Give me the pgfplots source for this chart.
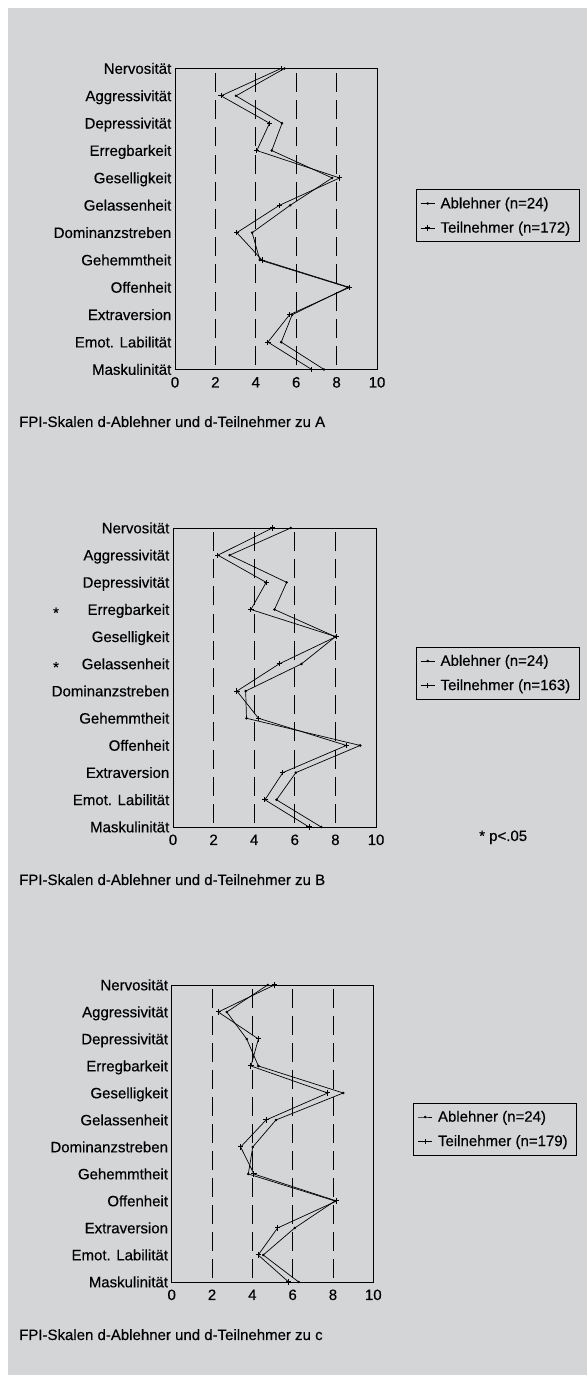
\documentclass[border=0pt]{standalone}
\usepackage{fontspec}
\setmainfont{Liberation Sans}[FakeBold=0.35]
\usepackage{pgfplots}
\pgfplotsset{compat=1.18}
\definecolor{bggray}{RGB}{212,213,215}
\newcommand\lbl{\fontsize{15}{18}\selectfont}
\newcommand\lgd[1]{\makebox[137pt][l]{\hspace{4pt}#1}}
\pgfplotsset{
  fpi/.style={
    scale only axis,
    xmin=0, xmax=10, ymin=1, ymax=12,
    xtick={0,2,4,6,8,10},
    ytick={1,2,3,4,5,6,7,8,9,10,11,12},
    yticklabels={Maskulinität,Emot. Labilität,Extraversion,Offenheit,Gehemmtheit,Dominanzstreben,Gelassenheit,Geselligkeit,Erregbarkeit,Depressivität,Aggressivität,Nervosität},
    major tick length=0pt,
    axis line style={black, line width=0.8pt},
    xmajorgrids,
    /pgf/number format/assume math mode=true,
    xticklabel style={font=\lbl, anchor=base, inner sep=0pt, yshift=-18pt},
    yticklabel style={font=\lbl, anchor=base east, inner sep=0pt, xshift=-3.5pt, yshift=-5.3pt},
    legend cell align=left,
    legend style={draw=black, line width=0.8pt, fill=none, font=\lbl, anchor=north west,
      inner xsep=4pt, inner ysep=6pt, row sep=9pt,
      nodes={inner sep=1.5pt}},
    legend image code/.code={\draw[#1, mark indices={2}] plot coordinates {(0pt,0pt) (7pt,0pt) (14pt,0pt)};},
  },
  abl/.style={black, line width=0.7pt, mark=*, mark size=0.9pt},
  teil/.style={black, line width=0.7pt, mark=+, mark size=2.6pt, mark options={line width=1pt}},
}
\begin{document}
\begin{tikzpicture}[x=1pt,y=1pt]
\path[use as bounding box] (0,0) rectangle (587,1383);
\fill[bggray] (8,8) rectangle (587,1375);

% ---------- Panel A ----------
\begin{axis}[fpi, at={(175pt,1013.5pt)}, anchor=south west, width=202pt, height=301pt,
  major grid style={black, line width=0.8pt, dash pattern=on 19.15pt off 8.21pt, dash phase=23.25pt},
  legend style={at={(axis description cs:1.193,0.598)}}]
\addplot[abl] coordinates {
 (5.42,12) (3.02,11) (5.30,10) (4.79,9) (7.78,8) (5.70,7) (3.82,6) (4.20,5) (8.56,4) (5.80,3) (5.26,2) (7.38,1)};
\addplot[teil] coordinates {
 (5.25,12) (2.28,11) (4.68,10) (4.05,9) (8.15,8) (5.17,7) (3.06,6) (4.31,5) (8.64,4) (5.67,3) (4.60,2) (6.77,1)};
\legend{\lgd{Ablehner (n=24)}, \lgd{Teilnehmer (n=172)}}
\end{axis}
\node[anchor=base west, font=\lbl, inner sep=0pt] at (19,956) {FPI-Skalen d-Ablehner und d-Teilnehmer zu A};

% ---------- Panel B ----------
\begin{axis}[fpi, at={(173pt,556pt)}, anchor=south west, width=203pt, height=299pt,
  major grid style={black, line width=0.8pt, dash pattern=on 19.03pt off 8.15pt, dash phase=23.1pt},
  legend style={at={(axis description cs:1.197,0.602)}}]
\addplot[abl] coordinates {
 (5.80,12) (2.79,11) (5.60,10) (5.00,9) (8.00,8) (6.33,7) (3.58,6) (3.62,5) (9.22,4) (6.05,3) (5.10,2) (7.30,1)};
\addplot[teil] coordinates {
 (4.90,12) (2.21,11) (4.59,10) (3.84,9) (8.03,8) (5.23,7) (3.15,6) (4.21,5) (8.54,4) (5.41,3) (4.53,2) (6.70,1)};
\legend{\lgd{Ablehner (n=24)}, \lgd{Teilnehmer (n=163)}}
\end{axis}
\node[anchor=base west, font=\lbl, inner sep=0pt] at (19,498) {FPI-Skalen d-Ablehner und d-Teilnehmer zu B};
\node[anchor=base west, font=\lbl, inner sep=0pt] at (479,542) {* p<.05};
\node[anchor=base, font=\lbl, inner sep=0pt] at (56,765) {*};
\node[anchor=base, font=\lbl, inner sep=0pt] at (56,710.6) {*};

% ---------- Panel C ----------
\begin{axis}[fpi, at={(171.7pt,101pt)}, anchor=south west, width=201.6pt, height=297pt,
  major grid style={black, line width=0.8pt, dash pattern=on 18.9pt off 8.1pt, dash phase=22.95pt},
  legend style={at={(axis description cs:1.199,0.603)}}]
\addplot[abl] coordinates {
 (4.76,12) (2.73,11) (3.72,10) (4.30,9) (8.51,8) (5.17,7) (4.02,6) (3.80,5) (8.10,4) (6.10,3) (4.54,2) (6.30,1)};
\addplot[teil] coordinates {
 (5.09,12) (2.31,11) (4.30,10) (3.93,9) (7.74,8) (4.68,7) (3.42,6) (4.08,5) (8.18,4) (5.25,3) (4.29,2) (5.80,1)};
\legend{\lgd{Ablehner (n=24)}, \lgd{Teilnehmer (n=179)}}
\end{axis}
\node[anchor=base west, font=\lbl, inner sep=0pt] at (19,43) {FPI-Skalen d-Ablehner und d-Teilnehmer zu c};
\end{tikzpicture}
\end{document}
